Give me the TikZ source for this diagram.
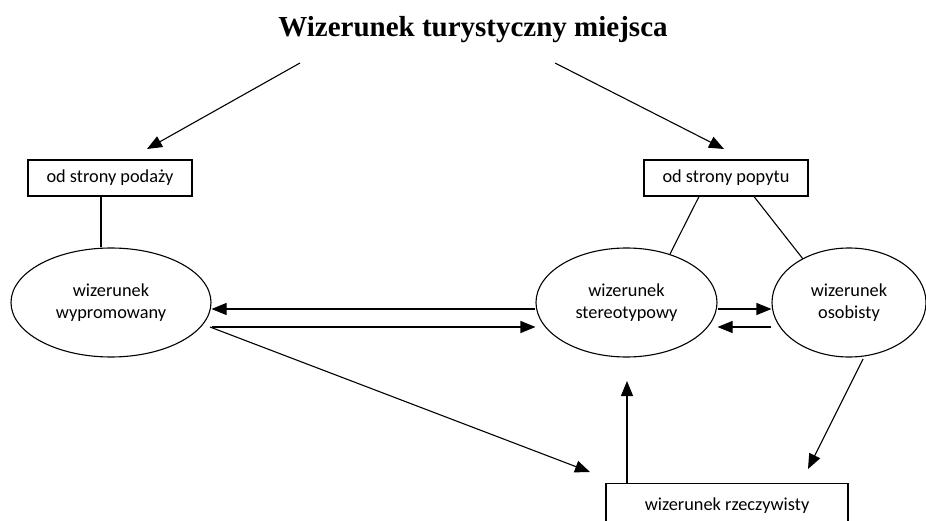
\documentclass[tikz,border=0pt]{standalone}
\usepackage{fontspec}
\setmainfont{Carlito}
\newfontfamily\titlefont{Liberation Serif}
\usetikzlibrary{arrows.meta,shapes.geometric,calc}
\begin{document}
\begin{tikzpicture}[x=1pt,y=-1pt,
  every node/.style={font=\fontsize{18.3}{22}\selectfont, align=center},
  box/.style={draw, line width=1.1pt, minimum width=164pt, minimum height=36pt, inner sep=0pt},
  ell/.style={draw, ellipse, line width=1.1pt, inner sep=0pt, minimum height=109pt},
  conn/.style={line width=1.1pt},
  arr/.style={line width=1.1pt, -{Triangle[length=15pt,width=12pt]}}]
\clip (0,0) rectangle (926,521);
\fill[white] (0,0) rectangle (926,521);
\node[font=\titlefont\bfseries\fontsize{29}{34}\selectfont, anchor=base] (title) at (473,37) {Wizerunek turystyczny miejsca};
\coordinate (tl) at (300,63);
\coordinate (tr) at (555,63);
\coordinate (tlend) at (147,149);
\coordinate (trend) at (724,149);
\node[box] (podaz) at (110,178) {od strony podaży};
\node[box] (popyt) at (726,178) {od strony popytu};
\node[ell, minimum width=200pt] (wyp) at (111,302.5) {wizerunek\\wypromowany};
\node[ell, minimum width=181pt] (ster) at (626.5,302.5) {wizerunek\\stereotypowy};
\node[ell, minimum width=154pt] (oso) at (849,302.5) {wizerunek\\osobisty};
\node[draw, line width=1.1pt, minimum width=242pt, minimum height=44pt, anchor=north, inner sep=0pt] (real) at (727,483) {wizerunek rzeczywisty};
\draw[arr] (tl) -- (tlend);
\draw[arr] (tr) -- (trend);
\draw[conn] (podaz.south -| 101,0) -- (wyp.north -| 101,0);
\draw[conn] (popyt.south -| 699,0) -- (670,254);
\draw[conn] (popyt.south -| 754,0) -- (803,259);
\draw[arr] (ster.west |- 0,309) -- (wyp.east |- 0,309);
\draw[arr] (wyp.east |- 0,327) -- (ster.west |- 0,327);
\draw[arr] (ster.east |- 0,309) -- (oso.west |- 0,309);
\draw[arr] (oso.west |- 0,327) -- (ster.east |- 0,327);
\coordinate (diagS) at (210,327);
\coordinate (diagE) at (590,472);
\draw[arr] (diagS) -- (diagE);
\coordinate (upE) at (627,381);
\draw[arr] (real.north -| 627,0) -- (upE);
\coordinate (osoS) at (863,359);
\coordinate (osoE) at (808,469);
\draw[arr] (osoS) -- (osoE);
\end{tikzpicture}
\end{document}
